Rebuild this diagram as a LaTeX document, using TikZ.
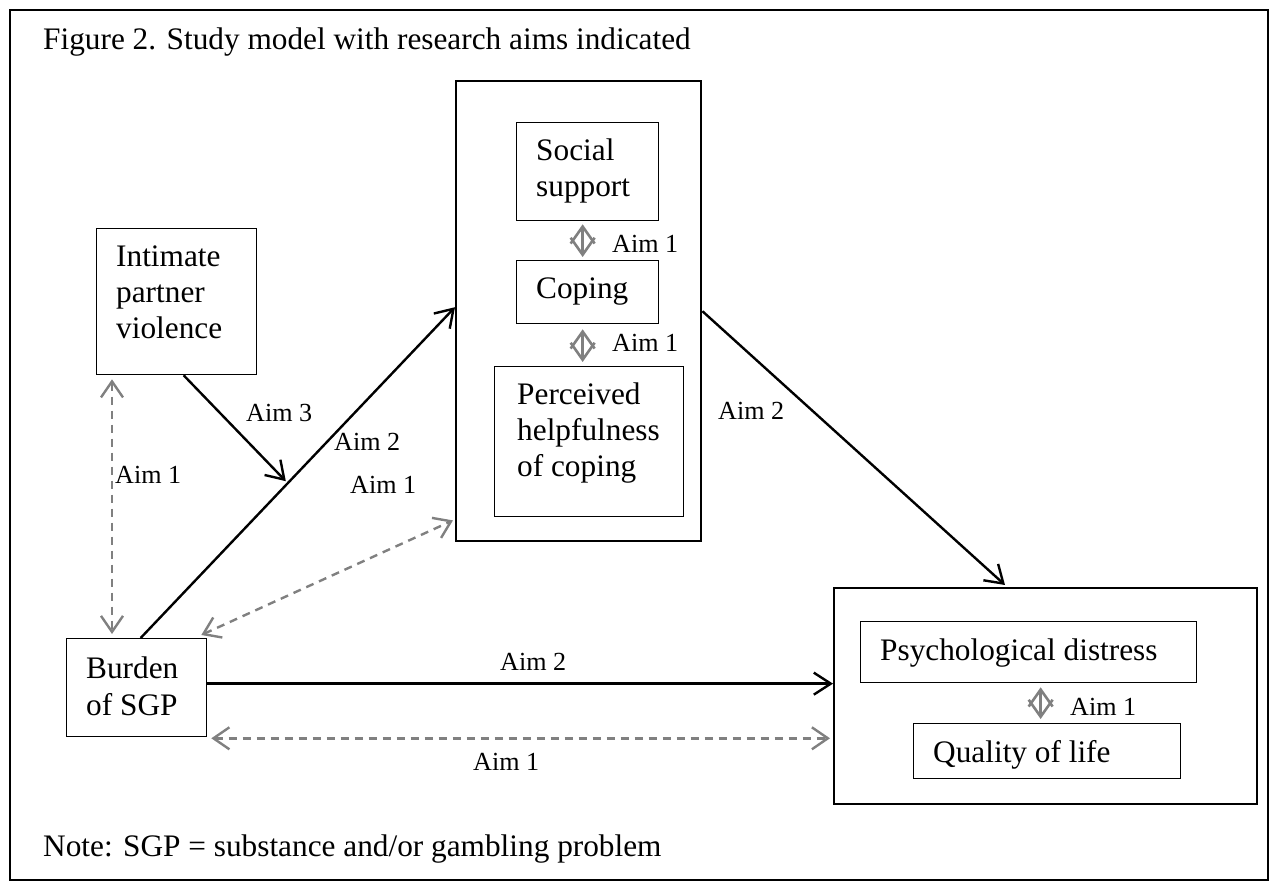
\documentclass[tikz,border=0pt]{standalone}
\usepackage{fontspec}
\setmainfont{Liberation Serif}
\usetikzlibrary{arrows.meta,calc}
\definecolor{aimgray}{HTML}{808080}
\tikzset{
  box/.style={draw, line width=1.3pt, inner sep=0pt, anchor=north west},
  bigbox/.style={draw, line width=2.4pt, inner sep=0pt, anchor=north west},
  txt/.style={anchor=base west, inner sep=0pt, font=\fontsize{31.3pt}{36pt}\selectfont},
  lbl/.style={anchor=base west, inner sep=0pt, font=\fontsize{26.1pt}{30pt}\selectfont},
  aim/.style={line width=2.4pt, -{Straight Barb[length=17pt,width=22pt]}},
  aimdash/.style={aimgray, line width=2.4pt, dash pattern=on 8pt off 6pt,
    {Straight Barb[length=16pt,width=22pt]}-{Straight Barb[length=16pt,width=22pt]}},
  pair/.style={aimgray, line width=2.6pt,
    {Straight Barb[length=17pt,width=24pt]}-{Straight Barb[length=17pt,width=24pt]}},
}
\begin{document}
\begin{tikzpicture}[x=1pt,y=-1pt]
\useasboundingbox (0,0) rectangle (1278,890);
% outer border
\draw[line width=2.2pt] (10,10) rectangle (1268,880);

% title and note
\node[txt] (title) at (43,50) {Figure 2. Study model with research aims indicated};
\node[txt] (note) at (43,856) {Note: SGP = substance and/or gambling problem};

% boxes
\node[box, minimum width=160pt, minimum height=146pt] (ipv) at (96,228) {};
\node[box, minimum width=140pt, minimum height=98pt] (burden) at (66,638) {};
\node[bigbox, minimum width=245pt, minimum height=460pt] (mid) at (455,80) {};
\node[box, minimum width=142pt, minimum height=98pt] (social) at (516,122) {};
\node[box, minimum width=142pt, minimum height=63pt] (coping) at (516,260) {};
\node[box, minimum width=189pt, minimum height=150pt] (helpful) at (494,366) {};
\node[bigbox, minimum width=423pt, minimum height=216pt] (right) at (833,587) {};
\node[box, minimum width=336pt, minimum height=61pt] (psych) at (860,621) {};
\node[box, minimum width=267pt, minimum height=55pt] (quality) at (913,723) {};

% box texts
\node[txt] (ipvA) at (116,267) {Intimate};
\node[txt] (ipvB) at (116,303) {partner};
\node[txt] (ipvC) at (116,339) {violence};
\node[txt] (burA) at (86,678) {Burden};
\node[txt] (burB) at (86,715) {of SGP};
\node[txt] (socA) at (536,161) {Social};
\node[txt] (socB) at (536,197) {support};
\node[txt] (copA) at (536,299) {Coping};
\node[txt] (helA) at (517,405) {Perceived};
\node[txt] (helB) at (517,441) {helpfulness};
\node[txt] (helC) at (517,477) {of coping};
\node[txt] (psyA) at (880,660) {Psychological distress};
\node[txt] (quaA) at (933,762) {Quality of life};

% connector end points
\coordinate (a2s) at ($(burden.north)+(4,0)$);
\coordinate (a2e) at ($(mid.west)+(0,-4)$);
\coordinate (ipvhit) at ($(a2s)!0.465!(a2e)+(-1,-3)$);
\coordinate (h1) at ($(burden.east)+(0,-4)$);
\coordinate (h2) at ($(burden.south east)+(4,1)$);

% solid aims
\draw[aim] (a2s) -- (a2e);
\draw[aim] ($(ipv.south)+(7,0)$) -- (ipvhit);
\draw[aim] (h1) -- (h1 -| right.west);
\draw[aim] (mid.east) -- ($(right.north west)+(172,-2)$);

% dashed aims
\draw[aimdash] ($(ipv.south west)+(16,4)$) -- ($(burden.north west)+(46,-4)$);
\draw[aimdash] ($(burden.north east)+(-6,-3)$) -- ($(mid.south west)+(-2,-22)$);
\draw[aimdash] (h2) -- ($(h2 -| right.west)+(-3,0)$);

% paired constructs
\draw[pair] ($(social.south)+(-5,3)$) -- ($(coping.north)+(-5,-3)$);
\draw[pair] ($(coping.south)+(-5,5)$) -- ($(helpful.north)+(-6.5,-4)$);
\draw[pair] ($(psych.south)+(12,4)$) -- ($(quality.north)+(-6.5,-4)$);

% labels
\node[lbl] (l3) at (246,422) {Aim 3};
\node[lbl] (l2a) at (334,451) {Aim 2};
\node[lbl] (l1a) at (115,484) {Aim 1};
\node[lbl] (l1b) at (350,494) {Aim 1};
\node[lbl] (l1c) at (612,253) {Aim 1};
\node[lbl] (l1d) at (612,352) {Aim 1};
\node[lbl] (l1e) at (1070,715) {Aim 1};
\node[lbl] (l2b) at (718,420) {Aim 2};
\node[lbl] (l2c) at (500,670) {Aim 2};
\node[lbl] (l1f) at (473,770) {Aim 1};
\end{tikzpicture}
\end{document}
